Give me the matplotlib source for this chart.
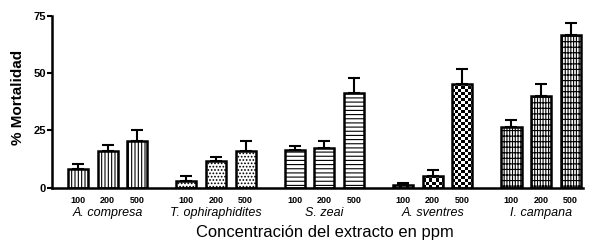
import matplotlib
matplotlib.use("Agg")
import matplotlib.pyplot as plt
import numpy as np
from matplotlib.transforms import blended_transform_factory

plt.rcParams['font.family'] = ['Liberation Sans', 'DejaVu Sans']
plt.rcParams['hatch.linewidth'] = 0.8

species = ["A. compresa", "T. ophiraphidites", "S. zeai", "A. sventres", "I. campana"]
concentrations = ["100", "200", "500"]
mortality = [
    [8.2, 16.1, 20.2],
    [2.9, 11.6, 16.1],
    [16.6, 17.3, 41.1],
    [1.2, 5.3, 45.2],
    [26.5, 40.2, 66.5],
]
errors = [
    [2.0, 2.6, 5.1],
    [2.1, 1.9, 4.1],
    [1.4, 3.2, 6.6],
    [1.0, 2.5, 6.6],
    [2.9, 5.0, 5.3],
]
hatches = ['|||||', '.....', '----', None, '||||||---']
faces = ['white', 'white', 'white', 'none', 'white']

fig = plt.figure(figsize=(5.92, 2.42), dpi=100)
ax = fig.add_axes([0.0878, 0.2244, 0.8972, 0.7107])

G = 3.66
W = 0.68
xpos, xlabels = [], []
bars_by_group = []
for i, sp in enumerate(species):
    xs = [i * G + (j - 1) for j in range(3)]
    xpos += xs
    xlabels += concentrations
    bars = ax.bar(xs, mortality[i], width=W, facecolor=faces[i], edgecolor='black',
                  linewidth=1.8, hatch=hatches[i], zorder=2)
    ax.errorbar(xs, mortality[i], yerr=[np.zeros(3), errors[i]], fmt='none',
                ecolor='black', elinewidth=1.5, capsize=4, capthick=1.5, zorder=1)
    bars_by_group.append(bars)

XL = (-1.88, 4 * G + 1 + 0.42)
ax.set_xlim(*XL)
ax.set_ylim(0, 75)

# checkerboard texture for A. sventres
fig.canvas.draw()
px_per_x = ax.transData.transform((1, 0))[0] - ax.transData.transform((0, 0))[0]
px_per_y = ax.transData.transform((0, 1))[1] - ax.transData.transform((0, 0))[1]
cell = 3.0
for b in bars_by_group[3]:
    x0, w, h = b.get_x(), b.get_width(), b.get_height()
    nx = int(np.ceil(w * px_per_x / cell))
    ny = max(1, int(np.ceil(h * px_per_y / cell)))
    chk = (np.add.outer(np.arange(ny), np.arange(nx)) % 2).astype(float)
    im = ax.imshow(chk, cmap='gray', vmin=0, vmax=1,
                   extent=(x0, x0 + nx * cell / px_per_x, 0, ny * cell / px_per_y),
                   origin='lower', interpolation='nearest', aspect='auto', zorder=1.5)
    im.set_clip_path(b)
ax.set_xlim(*XL)
ax.set_ylim(0, 75)

for s in ['top', 'right']:
    ax.spines[s].set_visible(False)
for s in ['left', 'bottom']:
    ax.spines[s].set_linewidth(1.8)

ax.set_yticks([0, 25, 50, 75])
ax.tick_params(axis='y', length=3.5, width=1.5, labelsize=8, pad=1)
for t in ax.get_yticklabels():
    t.set_fontweight('bold')

ax.set_xticks(xpos)
ax.set_xticklabels(xlabels, fontsize=6.5, fontweight='bold')
ax.tick_params(axis='x', length=0, pad=6)

trans = blended_transform_factory(ax.transData, ax.transAxes)
for i, sp in enumerate(species):
    ax.text(i * G, -0.148, sp, transform=trans, ha='center', va='center',
            fontsize=9, style='italic')

fig.text(0.548, 0.041, "Concentración del extracto en ppm", ha='center', va='center',
         fontsize=11.9)
fig.text(0.030, 0.599, "% Mortalidad", ha='center', va='center', rotation=90,
         fontsize=11, fontweight='bold')

fig.savefig("out.png", dpi=100)
